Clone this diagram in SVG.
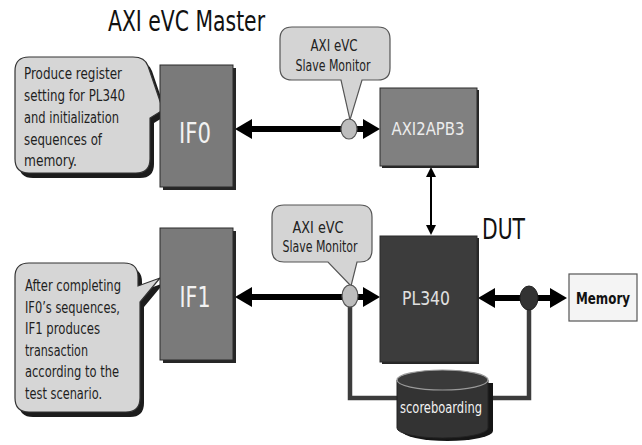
<svg xmlns="http://www.w3.org/2000/svg" width="642" height="445" viewBox="0 0 642 445">
<style>
  text { font-family: "DejaVu Sans Condensed", "DejaVu Sans", "Liberation Sans", sans-serif; font-stretch: condensed; }
  .call { fill: #d6d6d6; stroke: #333; stroke-width: 1.2; }
  .callsh { fill: #1c1c1c; }
  .ctext { font-size: 16px; fill: #1e1e1e; }
  .mon { fill: #d4d4d4; stroke: #555; stroke-width: 1.2; }
  .mtext { font-size: 15px; fill: #222; text-anchor: middle; }
  .shadow { fill: #262626; }
  .blk { stroke: #2a2a2a; stroke-width: 1; }
  .btext { text-anchor: middle; }
  .bus { stroke: #000; stroke-width: 6; fill: none; }
  .thin { stroke: #000; stroke-width: 2; fill: none; }
  .sb { stroke: #3c3c3c; stroke-width: 4.5; fill: none; }
</style>
<defs>
  <marker id="ah" markerUnits="userSpaceOnUse" markerWidth="17" markerHeight="20" refX="7" refY="10" orient="auto-start-reverse">
    <path d="M0,0 L17,10 L0,20 Z" fill="#000"/>
  </marker>
  <marker id="ahs" markerUnits="userSpaceOnUse" markerWidth="10" markerHeight="10" refX="4" refY="5" orient="auto-start-reverse">
    <path d="M0,0 L10,5 L0,10 Z" fill="#000"/>
  </marker>
</defs>
<rect x="0" y="0" width="642" height="445" fill="#fff"/>

<text id="title" x="108" y="31" font-size="28" fill="#111" textLength="157" lengthAdjust="spacingAndGlyphs">AXI eVC Master</text>
<text id="dut" x="482" y="239" font-size="29" fill="#111" textLength="43" lengthAdjust="spacingAndGlyphs">DUT</text>

<g id="connectors">
  <line class="bus" x1="245" y1="129" x2="370" y2="129" marker-start="url(#ah)" marker-end="url(#ah)"/>
  <line class="bus" x1="245" y1="297" x2="370" y2="297" marker-start="url(#ah)" marker-end="url(#ah)"/>
  <line class="bus" x1="488" y1="298" x2="557" y2="298" stroke-width="5" marker-start="url(#ah)" marker-end="url(#ah)"/>
  <line class="thin" x1="431" y1="173" x2="431" y2="229" marker-start="url(#ahs)" marker-end="url(#ahs)"/>
  <polyline class="sb" points="350,305 350,398 402,398"/>
  <polyline class="sb" points="529,308 529,398 484,398"/>
</g>

<g id="callout-if0">
  <path class="callsh" transform="translate(4,5)" d="M29,57 H133 Q145,57 148,66 L163,110 L150,118 V159 Q150,173 136,173 H29 Q15,173 15,159 V71 Q15,57 29,57 Z"/>
  <path class="call" d="M29,57 H133 Q145,57 148,66 L163,110 L150,118 V159 Q150,173 136,173 H29 Q15,173 15,159 V71 Q15,57 29,57 Z"/>
  <text class="ctext" x="24" y="79" textLength="98" lengthAdjust="spacingAndGlyphs">Produce register</text>
  <text class="ctext" x="24" y="101" textLength="101" lengthAdjust="spacingAndGlyphs">setting for PL340</text>
  <text class="ctext" x="24" y="123" textLength="95" lengthAdjust="spacingAndGlyphs">and initialization</text>
  <text class="ctext" x="24" y="145" textLength="78" lengthAdjust="spacingAndGlyphs">sequences of</text>
  <text class="ctext" x="24" y="166" textLength="53" lengthAdjust="spacingAndGlyphs">memory.</text>
</g>

<g id="callout-if1">
  <path class="callsh" transform="translate(4,5)" d="M29,263 H124 Q138,263 138,277 V286 L160,278 L140,302 V398 Q140,412 126,412 H29 Q15,412 15,398 V277 Q15,263 29,263 Z"/>
  <path class="call" d="M29,263 H124 Q138,263 138,277 V286 L160,278 L140,302 V398 Q140,412 126,412 H29 Q15,412 15,398 V277 Q15,263 29,263 Z"/>
  <text class="ctext" x="25" y="291" textLength="96" lengthAdjust="spacingAndGlyphs">After completing</text>
  <text class="ctext" x="25" y="313" textLength="95" lengthAdjust="spacingAndGlyphs">IF0’s sequences,</text>
  <text class="ctext" x="25" y="334" textLength="75" lengthAdjust="spacingAndGlyphs">IF1 produces</text>
  <text class="ctext" x="25" y="356" textLength="63" lengthAdjust="spacingAndGlyphs">transaction</text>
  <text class="ctext" x="25" y="377" textLength="94" lengthAdjust="spacingAndGlyphs">according to the</text>
  <text class="ctext" x="25" y="399" textLength="77" lengthAdjust="spacingAndGlyphs">test scenario.</text>
</g>

<g id="IF0">
  <rect class="shadow" x="163" y="68" width="73" height="122"/>
  <rect class="blk" x="160" y="65" width="73" height="122" fill="#7a7a7a"/>
  <text class="btext" x="195" y="143" font-size="28" fill="#f2f2f2" textLength="32" lengthAdjust="spacingAndGlyphs">IF0</text>
</g>

<g id="IF1">
  <rect class="shadow" x="163" y="231" width="73" height="132"/>
  <rect class="blk" x="160" y="228" width="73" height="132" fill="#7a7a7a"/>
  <text class="btext" x="195" y="307" font-size="28" fill="#f2f2f2" textLength="31" lengthAdjust="spacingAndGlyphs">IF1</text>
</g>

<g id="AXI2APB3">
  <rect class="shadow" x="382" y="90" width="97" height="78"/>
  <rect class="blk" x="380" y="88" width="97" height="78" fill="#808080"/>
  <text class="btext" x="428" y="135" font-size="18" fill="#ececec" textLength="73" lengthAdjust="spacingAndGlyphs">AXI2APB3</text>
</g>

<g id="PL340">
  <rect class="shadow" x="382" y="238" width="97" height="126"/>
  <rect class="blk" x="380" y="236" width="97" height="126" fill="#3c3c3c"/>
  <text class="btext" x="426" y="305" font-size="19" fill="#e0e0e0" textLength="48" lengthAdjust="spacingAndGlyphs">PL340</text>
</g>

<g id="Memory">
  <rect x="569" y="274" width="68" height="47" fill="#f4f4f4" stroke="#555" stroke-width="1.2"/>
  <text class="btext" x="603" y="304" font-size="15" font-weight="bold" fill="#111" textLength="54" lengthAdjust="spacingAndGlyphs">Memory</text>
</g>

<g id="monitor0">
  <path class="mon" d="M292,27 H378 Q390,27 390,39 V68 Q390,80 378,80 H362 L350,120 L341,80 H292 Q280,80 280,68 V39 Q280,27 292,27 Z"/>
  <text class="mtext" x="334" y="51" textLength="47" lengthAdjust="spacingAndGlyphs">AXI eVC</text>
  <text class="mtext" x="333" y="71" textLength="75" lengthAdjust="spacingAndGlyphs">Slave Monitor</text>
  <ellipse cx="349" cy="129" rx="8" ry="10" fill="#bdbdbd" stroke="#555" stroke-width="1.2"/>
</g>

<g id="monitor1">
  <path class="mon" d="M284,205 H360 Q372,205 372,217 V250 Q372,262 360,262 H357 L351,286 L328,262 H284 Q272,262 272,250 V217 Q272,205 284,205 Z"/>
  <text class="mtext" x="318" y="233" textLength="51" lengthAdjust="spacingAndGlyphs">AXI eVC</text>
  <text class="mtext" x="320" y="252" textLength="75" lengthAdjust="spacingAndGlyphs">Slave Monitor</text>
  <ellipse cx="350" cy="296" rx="8" ry="11" fill="#bdbdbd" stroke="#555" stroke-width="1.2"/>
</g>

<g id="tap">
  <ellipse cx="529" cy="298" rx="9" ry="12" fill="#333" stroke="#222" stroke-width="1"/>
</g>

<g id="scoreboarding">
  <path d="M402,383 V431 A45.5,10 0 0 0 493,431 V383 Z" fill="#161616"/>
  <path d="M397,380 V428 A45.5,10 0 0 0 488,428 V380 Z" fill="#333" stroke="#222" stroke-width="1"/>
  <ellipse cx="442.5" cy="380" rx="45.5" ry="10" fill="#3a3a3a" stroke="#9a9a9a" stroke-width="1.2"/>
  <text class="btext" x="441" y="413" font-size="15" fill="#f2f2f2" textLength="82" lengthAdjust="spacingAndGlyphs">scoreboarding</text>
</g>
</svg>
